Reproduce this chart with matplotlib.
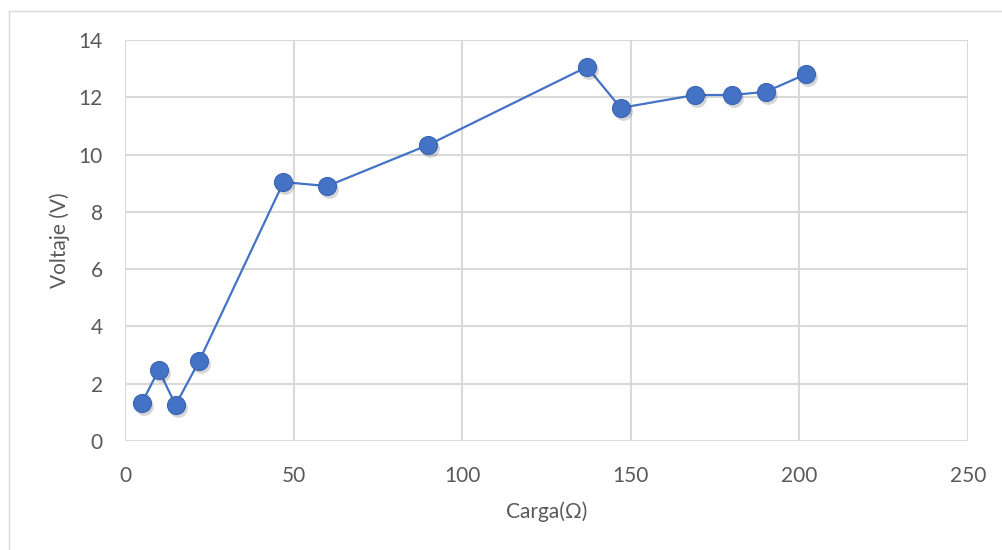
import matplotlib
matplotlib.use("Agg")
import matplotlib.pyplot as plt
import matplotlib.transforms as mtransforms
from matplotlib.lines import Line2D

# carga (ohm) vs voltaje medido (V)
carga = [5, 10, 15, 22, 47, 60, 90, 137, 147, 169, 180, 190, 202]
voltaje = [1.33, 2.48, 1.26, 2.79, 9.04, 8.90, 10.34, 13.06, 11.63, 12.08, 12.08, 12.19, 12.81]

x_ticks = [0, 50, 100, 150, 200, 250]
y_ticks = [0, 2, 4, 6, 8, 10, 12, 14]

blue = "#4472C4"
grid_gray = "#d9d9d9"
text_gray = "#595959"

plt.rcParams['font.family'] = ['Lato', 'DejaVu Sans']

fig = plt.figure(figsize=(10.02, 5.5), dpi=100)
# chart frame: only the left and top edges fall inside the image
fig.lines.append(Line2D([8.5 / 1002, 8.5 / 1002], [0, 539 / 550], transform=fig.transFigure,
                        color=grid_gray, linewidth=1.0))
fig.lines.append(Line2D([8.5 / 1002, 1], [539 / 550, 539 / 550], transform=fig.transFigure,
                        color=grid_gray, linewidth=1.0))

ax = fig.add_axes([125 / 1002, 109 / 550, 843 / 1002, 401 / 550])
ax.set_xlim(0, 250)
ax.set_ylim(0, 14)
ax.set_xticks(x_ticks)
ax.set_yticks(y_ticks)
ax.grid(True, color=grid_gray, linewidth=1.5)
ax.set_axisbelow(True)
for s in ax.spines.values():
    s.set_visible(False)
ax.tick_params(axis='x', length=0, labelsize=15, labelcolor=text_gray, pad=18)
ax.tick_params(axis='y', length=0, labelsize=15, labelcolor=text_gray, pad=16)

ax.plot(carga, voltaje, color=blue, linewidth=1.6, zorder=2)

# soft drop shadow under markers
shadow = mtransforms.offset_copy(ax.transData, fig=fig, x=2, y=-3, units='dots')
ax.plot(carga, voltaje, 'o', markersize=13.5, color='black', alpha=0.16,
        markeredgewidth=0, transform=shadow, zorder=3)
ax.plot(carga, voltaje, 'o', markersize=13, color=blue, markeredgecolor="#3a65b5",
        markeredgewidth=0.8, zorder=4)

ax.set_xlabel("Carga(Ω)", fontsize=15, color=text_gray, labelpad=11)
ax.set_ylabel("Voltaje (V)", fontsize=15, color=text_gray, labelpad=6)

fig.savefig("out.png", dpi=100)
